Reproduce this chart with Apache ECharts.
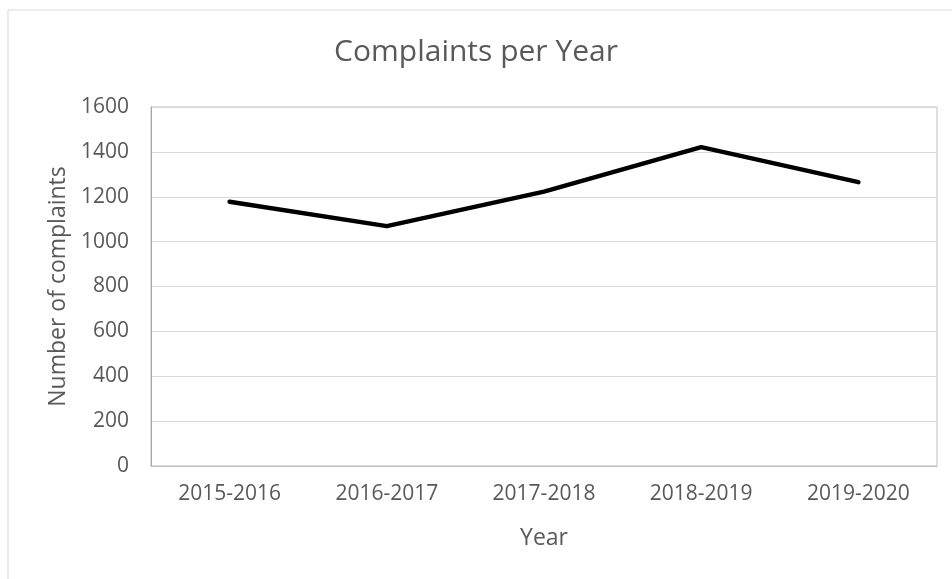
<!DOCTYPE html>
<html>
<head>
<meta charset="utf-8">
<script src="https://cdn.jsdelivr.net/npm/echarts@6/dist/echarts.min.js"></script>
<style>html,body{margin:0;padding:0;background:#fff}#c{width:952px;height:579px}</style>
</head>
<body>
<div id="c"></div>
<script>
const categories = ['2015-2016', '2016-2017', '2017-2018', '2018-2019', '2019-2020'];
const complaints = [1178, 1069, 1223, 1421, 1265];
const yTicks = { min: 0, max: 1600, interval: 200 };

const chart = echarts.init(document.getElementById('c'));
const font = '"Open Sans", sans-serif';
chart.setOption({
  animation: false,
  backgroundColor: '#fff',
  graphic: [{
    type: 'rect', left: 5.5, top: 7.5,
    shape: { width: 1000, height: 600 },
    style: { fill: 'none', stroke: '#d9d9d9', lineWidth: 1 }, silent: true
  }],
  title: {
    text: 'Complaints per Year', left: 'center', top: 32,
    textStyle: { fontFamily: font, fontSize: 30, fontWeight: 'normal', color: '#595959' }
  },
  grid: { left: 151, right: 15, top: 107, bottom: 113, show: true, borderColor: '#bfbfbf', borderWidth: 1 },
  xAxis: {
    type: 'category', data: categories, boundaryGap: true,
    name: 'Year', nameLocation: 'middle', nameGap: 61,
    nameTextStyle: { fontFamily: font, fontSize: 23, color: '#595959' },
    axisLine: { lineStyle: { color: '#bfbfbf', width: 1 } },
    axisTick: { show: false },
    axisLabel: { fontFamily: font, fontSize: 21, color: '#595959', margin: 18 }
  },
  yAxis: {
    type: 'value', min: yTicks.min, max: yTicks.max, interval: yTicks.interval,
    name: 'Number of complaints', nameLocation: 'middle', nameGap: 80,
    nameTextStyle: { fontFamily: font, fontSize: 23, color: '#595959' },
    axisLine: { show: true, lineStyle: { color: '#a6a6a6', width: 1 } },
    axisTick: { show: false },
    splitLine: { lineStyle: { color: '#d9d9d9', width: 1 } },
    axisLabel: { fontFamily: font, fontSize: 21, color: '#595959', margin: 22, formatter: v => String(v) }
  },
  series: [{
    type: 'line', data: complaints, symbol: 'none',
    lineStyle: { color: '#000', width: 4.5, cap: 'round', join: 'round' }
  }]
});
</script>
</body>
</html>
